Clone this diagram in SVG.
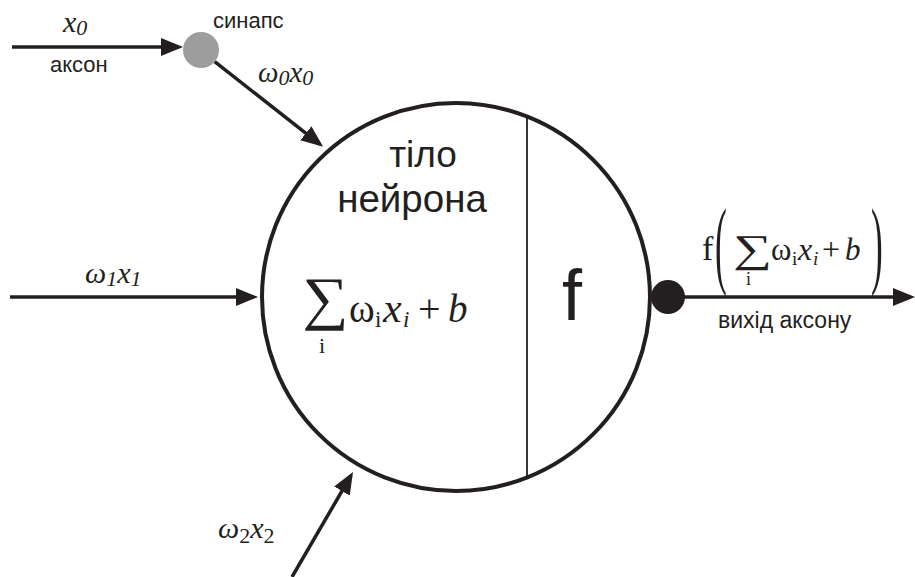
<svg xmlns="http://www.w3.org/2000/svg" width="915" height="577" viewBox="0 0 915 577">
<style>
.ln{stroke:#231f20;stroke-width:3.5;fill:none}
.sans{font-family:"Liberation Sans",Arial,sans-serif;fill:#231f20}
.ser{font-family:"Liberation Serif","Times New Roman",serif;fill:#231f20}
.it{font-style:italic}
</style>
<defs>
<marker id="ah" viewBox="0 0 22 18" refX="18" refY="9" markerWidth="22" markerHeight="18" markerUnits="userSpaceOnUse" orient="auto">
<path d="M0,0 L22,9 L0,18 z" fill="#231f20"/>
</marker>
</defs>
<rect width="915" height="577" fill="#fff"/>
<g id="connectors">
<line class="ln" x1="12" y1="47" x2="179" y2="47" marker-end="url(#ah)"/>
<line class="ln" x1="214.7" y1="61.7" x2="320" y2="144.4" marker-end="url(#ah)"/>
<line class="ln" x1="10" y1="297" x2="254" y2="297" marker-end="url(#ah)"/>
<line class="ln" x1="292" y1="577" x2="351" y2="475.5" marker-end="url(#ah)"/>
<line class="ln" x1="668" y1="297" x2="911" y2="297" marker-end="url(#ah)"/>
</g>
<g id="synapse">
<circle cx="201" cy="50" r="18" fill="#9d9d9d"/>
<text class="sans" x="213" y="28" font-size="22">синапс</text>
</g>
<g id="input-x0">
<text class="ser it" x="63" y="32" font-size="30">x<tspan font-size="22" dy="3">0</tspan></text>
<text class="sans" x="50" y="72" font-size="22">аксон</text>
</g>
<g id="label-w0x0">
<text class="ser it" x="258" y="82" font-size="29">ω<tspan font-size="22" dy="3">0</tspan><tspan dy="-3">x</tspan><tspan font-size="22" dy="3">0</tspan></text>
</g>
<g id="label-w1x1">
<text class="ser it" x="85" y="283" font-size="30">ω<tspan font-size="22" dy="3">1</tspan><tspan dy="-3">x</tspan><tspan font-size="22" dy="3">1</tspan></text>
</g>
<g id="label-w2x2">
<text class="ser it" x="218" y="538" font-size="30">ω<tspan font-size="22" dy="5" font-style="normal">2</tspan><tspan dy="-5">x</tspan><tspan font-size="22" dy="5" font-style="normal">2</tspan></text>
</g>
<g id="neuron-body">
<circle cx="456" cy="297" r="194" fill="none" stroke="#231f20" stroke-width="4"/>
<line x1="527" y1="116.5" x2="527" y2="477.5" stroke="#231f20" stroke-width="1.8"/>
<text class="sans" x="423" y="167" font-size="37" text-anchor="middle">тіло</text>
<text class="sans" x="412" y="212" font-size="38.5" text-anchor="middle">нейрона</text>
<text class="ser" transform="translate(302,318) scale(1.1,1)" font-size="59">∑</text>
<text class="ser" x="319" y="353" font-size="22">i</text>
<text class="ser" x="349" y="322" font-size="39">ω</text>
<text class="ser" x="375" y="327" font-size="23">i</text>
<text class="ser it" x="383" y="322" font-size="42">x</text>
<text class="ser it" x="403" y="327" font-size="23">i</text>
<text class="ser" x="418" y="322" font-size="40">+</text>
<text class="ser it" x="448" y="322" font-size="39">b</text>
<text class="sans" x="562" y="320" font-size="72">f</text>
</g>
<g id="output">
<circle cx="668" cy="297" r="17" fill="#231f20"/>
<text class="ser" x="702" y="260" font-size="34">f</text>
<text class="ser" transform="translate(715,276) scale(0.36,1)" font-size="98">(</text>
<text class="ser" transform="translate(733,262) scale(1.4,1)" font-size="39">∑</text>
<text class="ser" x="746" y="285" font-size="18">i</text>
<text class="ser" x="771" y="260" font-size="31">ω</text>
<text class="ser" x="792" y="265" font-size="19">i</text>
<text class="ser it" x="798" y="260" font-size="32">x</text>
<text class="ser it" x="813" y="265" font-size="19">i</text>
<text class="ser" x="822" y="260" font-size="32">+</text>
<text class="ser it" x="845" y="260" font-size="31">b</text>
<text class="ser" transform="translate(871,276) scale(0.36,1)" font-size="98">)</text>
<text class="sans" x="718" y="328" font-size="23">вихід аксону</text>
</g>
</svg>
